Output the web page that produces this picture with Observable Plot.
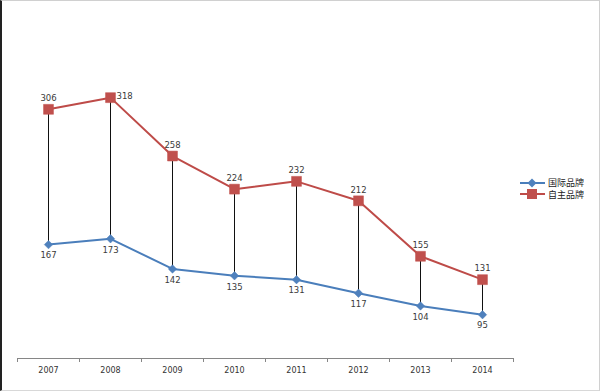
<!DOCTYPE html>
<html>
<head>
<meta charset="utf-8">
<script src="https://cdn.jsdelivr.net/npm/d3@7"></script>
<script src="https://cdn.jsdelivr.net/npm/@observablehq/plot@0.6"></script>
<style>
  html, body { margin: 0; padding: 0; background: #fff; }
  #wrap { position: relative; width: 600px; height: 391px; overflow: hidden; }
  #frame { position: absolute; left: 0; top: 0; width: 600px; height: 391px; box-sizing: border-box;
           border-left: 2px solid #222; border-top: 1px solid #d0d0d0; border-right: 1px solid #d0d0d0; border-bottom: 1px solid #d8d8d8; pointer-events: none; }
  #legend { position: absolute; left: 520px; top: 177px; font: 9px "Noto Sans CJK SC", sans-serif; line-height: 11px; color: #222; }
  #legend .row { display: flex; align-items: center; height: 11.5px; line-height: 11px; }
  #legend svg { margin-right: 3px; display: block; }
</style>
</head>
<body>
<div id="wrap">
  <div id="chart"></div>
  <div id="legend"></div>
  <div id="frame"></div>
</div>
<script>
const years = ["2007", "2008", "2009", "2010", "2011", "2012", "2013", "2014"];
const intlBrand = [167, 173, 142, 135, 131, 117, 104, 95];
const ownBrand = [306, 318, 258, 224, 232, 212, 155, 131];
const seriesNames = ["国际品牌", "自主品牌"];

const blue = "#4F81BD", blueLine = "#4A7EBB";
const red = "#C0504D", redLine = "#BE4B48";

const rows = years.map((y, i) => ({i, year: y, intl: intlBrand[i], own: ownBrand[i]}));
const idx = d3.range(years.length);
const boundaries = d3.range(years.length + 1).map(k => k - 0.5);
const rightLabelYears = new Set(["2008"]);

const chart = Plot.plot({
  width: 600,
  height: 391,
  marginLeft: 17,
  marginRight: 87,
  marginTop: 66,
  marginBottom: 33,
  style: {background: "transparent", fontFamily: "DejaVu Sans, sans-serif"},
  x: {type: "linear", domain: [-0.5, years.length - 0.5], axis: null, label: null},
  y: {domain: [50, 350], axis: null, label: null},
  marks: [
    Plot.ruleY([50], {x1: -0.5, x2: years.length - 0.5, stroke: "#868686", strokeWidth: 1}),
    Plot.axisX({ticks: boundaries, tickFormat: () => "", tickSize: 4, stroke: "#868686", anchor: "bottom", label: null}),
    Plot.axisX({ticks: idx, tickFormat: i => years[i], tickSize: 0, tickPadding: 9, fontSize: 8, fill: "#333", anchor: "bottom", label: null}),
    Plot.ruleX(rows, {x: "i", y1: "intl", y2: "own", stroke: "#111", strokeWidth: 1}),
    Plot.line(rows, {x: "i", y: "intl", stroke: blueLine, strokeWidth: 2}),
    Plot.line(rows, {x: "i", y: "own", stroke: redLine, strokeWidth: 2}),
    Plot.dot(rows, {x: "i", y: "intl", symbol: "diamond2", r: 3.8, fill: blue, stroke: blue, strokeWidth: 0.5}),
    Plot.dot(rows, {x: "i", y: "own", symbol: "square", r: 5.6, fill: red, stroke: red, strokeWidth: 0.5}),
    Plot.text(rows, {x: "i", y: "intl", text: d => String(d.intl), dy: 11, fontSize: 8.5, fill: "#3a3a3a"}),
    Plot.text(rows.filter(d => !rightLabelYears.has(d.year)), {x: "i", y: "own", text: d => String(d.own), dy: -11, fontSize: 8.5, fill: "#3a3a3a"}),
    Plot.text(rows.filter(d => rightLabelYears.has(d.year)), {x: "i", y: "own", text: d => String(d.own), dx: 6, dy: -1, textAnchor: "start", fontSize: 8.5, fill: "#3a3a3a"})
  ]
});
document.getElementById("chart").appendChild(chart);

const legend = document.getElementById("legend");
const legendDefs = [
  {name: seriesNames[0], color: blue, line: blueLine, shape: "diamond"},
  {name: seriesNames[1], color: red, line: redLine, shape: "square"}
];
for (const s of legendDefs) {
  const row = document.createElement("div");
  row.className = "row";
  const marker = s.shape === "diamond"
    ? `<path d="M12 1.5 L16.5 6 L12 10.5 L7.5 6 Z" fill="${s.color}"/>`
    : `<rect x="7" y="1" width="10" height="10" fill="${s.color}"/>`;
  row.innerHTML = `<svg width="25" height="12"><line x1="0" x2="25" y1="6" y2="6" stroke="${s.line}" stroke-width="2"/>${marker}</svg><span>${s.name}</span>`;
  legend.appendChild(row);
}
</script>
</body>
</html>
